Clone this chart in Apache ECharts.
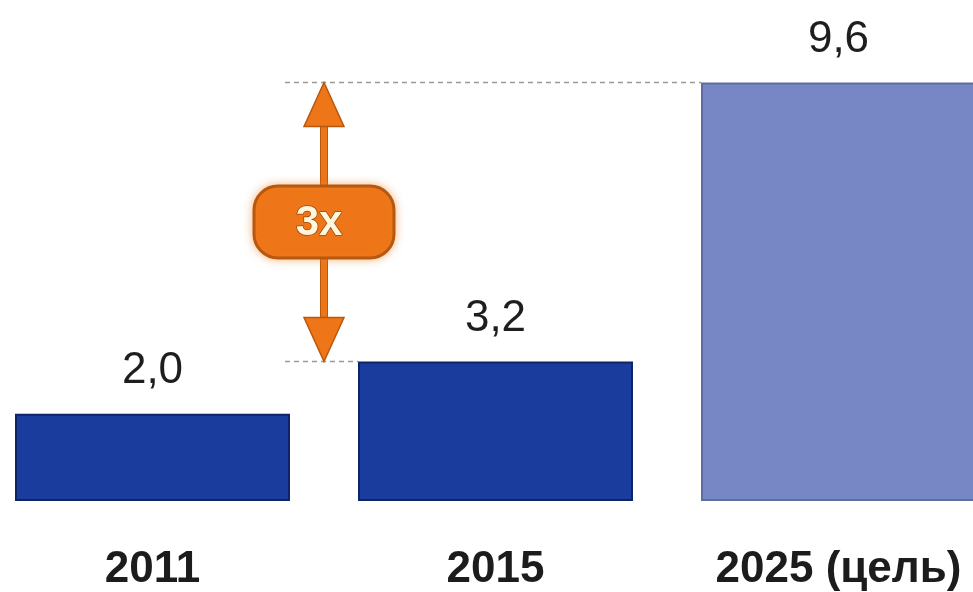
<!DOCTYPE html>
<html>
<head>
<meta charset="utf-8">
<script src="https://cdn.jsdelivr.net/npm/echarts@6/dist/echarts.min.js"></script>
<style>
html,body{margin:0;padding:0;background:#fff;overflow:hidden;width:973px;height:592px;}
#chart{position:absolute;left:-19px;top:0;width:1029px;height:592px;}
</style>
</head>
<body>
<div id="chart"></div>
<script>
const categories = ['2011', '2015', '2025 (цель)'];
const values = [2.0, 3.2, 9.6];
const valueLabels = ['2,0', '3,2', '9,6'];
const barColors = ['#1a3c9c', '#1a3c9c', '#7787c5'];
const multiplierText = '3x';
// annotation: from category index 1 (2015) to category index 2 (2025)
const annotFromIndex = 1;
const annotToIndex = 2;

const chart = echarts.init(document.getElementById('chart'), null, {renderer: 'canvas'});
const BAR_W = 275;

const option = {
  animation: false,
  backgroundColor: '#ffffff',
  grid: {left: 0, right: 0, top: 65, bottom: 91, containLabel: false},
  xAxis: {
    type: 'category',
    data: categories,
    axisLine: {show: false},
    axisTick: {show: false},
    axisLabel: {
      interval: 0,
      margin: 47,
      color: '#1c1c1c',
      fontFamily: 'Liberation Sans, Arial, sans-serif',
      fontWeight: 'bold',
      fontSize: 44
    }
  },
  yAxis: {
    type: 'value',
    min: 0,
    max: 10,
    show: false,
    splitLine: {show: false}
  },
  series: [
    {
      type: 'bar',
      barWidth: BAR_W,
      data: values.map((v, i) => ({
        value: v,
        itemStyle: {
          color: barColors[i],
          borderColor: i < 2 ? '#0f2466' : '#5f6ca4',
          borderWidth: 2
        },
        label: {formatter: valueLabels[i]}
      })),
      label: {
        show: true,
        position: 'top',
        distance: 21,
        color: '#1e1e1e',
        fontFamily: 'Liberation Sans, Arial, sans-serif',
        fontSize: 44
      },
      z: 2
    },
    {
      type: 'custom',
      coordinateSystem: 'cartesian2d',
      clip: false,
      z: 5,
      data: [[annotFromIndex, values[annotFromIndex], annotToIndex, values[annotToIndex]]],
      renderItem: function (params, api) {
        const fromIdx = api.value(0), fromVal = api.value(1);
        const toIdx = api.value(2), toVal = api.value(3);
        const bw = api.size([1, 0])[0];
        const half = BAR_W / 2;
        const pLow = api.coord([fromIdx, fromVal]);
        const pTop = api.coord([toIdx, toVal]);
        const pPrev = api.coord([fromIdx - 1, 0]);
        const xArrow = pLow[0] - bw / 2;
        const lineStart = pPrev[0] + half - 5;
        const yTop = pTop[1];
        const yLow = pLow[1];
        const orange = '#ee7618';
        const dark = '#b8580e';
        const headH = 44, headW = 40;
        const yMid = (yTop + yLow) / 2;
        const dash = {stroke: '#9a9a9a', lineWidth: 1.6, lineDash: [5, 4]};
        return {
          type: 'group',
          children: [
            {type: 'line', shape: {x1: lineStart, y1: yTop, x2: pTop[0] - half, y2: yTop}, style: dash},
            {type: 'line', shape: {x1: lineStart, y1: yLow, x2: pLow[0] - half, y2: yLow}, style: dash},
            {type: 'rect', shape: {x: xArrow - 3.5, y: yTop + headH - 2, width: 7, height: (yLow - headH) - (yTop + headH) + 4},
             style: {fill: orange, stroke: dark, lineWidth: 1}},
            {type: 'polygon', shape: {points: [[xArrow, yTop], [xArrow - headW / 2, yTop + headH], [xArrow + headW / 2, yTop + headH]]},
             style: {fill: orange, stroke: dark, lineWidth: 1.5}},
            {type: 'polygon', shape: {points: [[xArrow, yLow], [xArrow - headW / 2, yLow - headH], [xArrow + headW / 2, yLow - headH]]},
             style: {fill: orange, stroke: dark, lineWidth: 1.5}},
            {type: 'rect', shape: {x: xArrow - 70, y: yMid - 36, width: 140, height: 72, r: 24},
             style: {fill: orange, stroke: dark, lineWidth: 3, shadowBlur: 8, shadowColor: 'rgba(240,130,40,0.5)'}},
            {type: 'text', x: xArrow - 5, y: yMid + 1,
             style: {text: multiplierText, fill: '#fff6dc', font: 'bold 42px "Liberation Sans", Arial, sans-serif',
                     align: 'center', verticalAlign: 'middle', stroke: '#9a4a0a', lineWidth: 1.5}}
          ]
        };
      }
    }
  ]
};
chart.setOption(option);
</script>
</body>
</html>
